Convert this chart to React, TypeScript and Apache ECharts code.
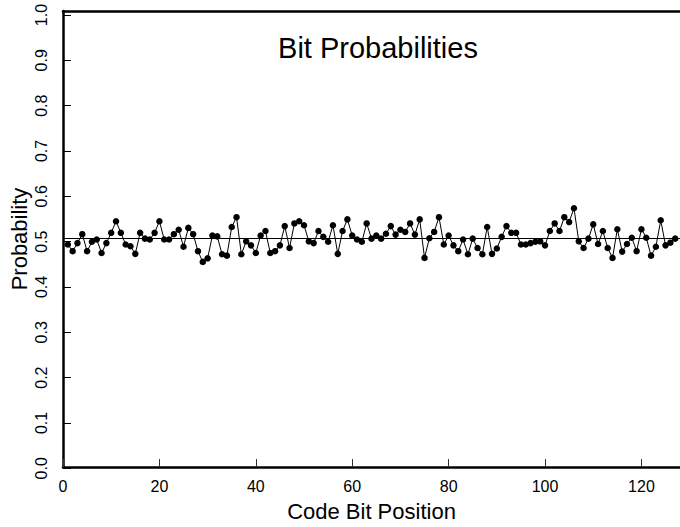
import React, { useEffect, useRef } from "react";
import * as echarts from "echarts";

const positions: number[] = Array.from({ length: 127 }, (_, i) => i + 1);
const probabilities: number[] = [
  0.487, 0.472, 0.49, 0.51, 0.472, 0.493, 0.498, 0.468, 0.49, 0.513,
  0.539, 0.513, 0.487, 0.483, 0.466, 0.513, 0.5, 0.498, 0.513, 0.539,
  0.498, 0.498, 0.51, 0.52, 0.482, 0.524, 0.51, 0.472, 0.448, 0.456,
  0.507, 0.505, 0.465, 0.462, 0.526, 0.548, 0.465, 0.494, 0.485, 0.468,
  0.507, 0.517, 0.468, 0.472, 0.485, 0.528, 0.479, 0.534, 0.539, 0.53,
  0.494, 0.49, 0.517, 0.504, 0.493, 0.53, 0.466, 0.517, 0.543, 0.507,
  0.498, 0.493, 0.534, 0.5, 0.507, 0.5, 0.511, 0.528, 0.509, 0.52,
  0.515, 0.534, 0.509, 0.543, 0.457, 0.501, 0.515, 0.548, 0.487, 0.507,
  0.485, 0.472, 0.498, 0.465, 0.5, 0.479, 0.465, 0.526, 0.466, 0.478,
  0.504, 0.528, 0.513, 0.513, 0.487, 0.487, 0.49, 0.493, 0.494, 0.485,
  0.517, 0.534, 0.517, 0.548, 0.537, 0.568, 0.494, 0.479, 0.5, 0.532,
  0.488, 0.517, 0.479, 0.457, 0.521, 0.471, 0.488, 0.502, 0.472, 0.521,
  0.502, 0.462, 0.482, 0.541, 0.485, 0.491, 0.5,
];
const xTicks: number[] = [0, 20, 40, 60, 80, 100, 120];
const yTickMin = 0;
const yTickMax = 1;
const yTickStep = 0.1;
const referenceLevel = 0.5;
const titleText = "Bit Probabilities";
const xName = "Code Bit Position";
const yName = "Probability";

const FONT = "'Liberation Sans', Arial, Helvetica, sans-serif";

export default function App() {
  const ref = useRef<HTMLDivElement>(null);
  useEffect(() => {
    if (!ref.current) return;
    const chart = echarts.init(ref.current, undefined, { renderer: "svg" });
    const axisLine = {
      show: true,
      onZero: false,
      lineStyle: { color: "#000", width: 2.5 },
    };
    chart.setOption({
      animation: false,
      backgroundColor: "#fff",
      grid: [
        { left: 63, right: -6, top: 11, bottom: 54, containLabel: false },
        { left: 63, right: -6, top: 15, bottom: 58.7, containLabel: false },
      ],
      graphic: [
        {
          type: "text",
          x: 378,
          y: 48,
          style: {
            text: titleText,
            font: `29px ${FONT}`,
            fill: "#000",
            align: "center",
            verticalAlign: "middle",
          },
        },
      ],
      xAxis: [
        {
          type: "value",
          gridIndex: 0,
          min: 0,
          max: 128,
          position: "bottom",
          name: xName,
          nameLocation: "middle",
          nameGap: 33,
          nameTextStyle: { fontFamily: FONT, fontSize: 22, color: "#000" },
          axisLine,
          axisTick: {
            show: true,
            inside: true,
            length: 8,
            customValues: xTicks,
            lineStyle: { color: "#333", width: 1 },
          },
          axisLabel: {
            show: true,
            customValues: xTicks,
            margin: 11,
            fontFamily: FONT,
            fontSize: 16,
            color: "#000",
          },
          splitLine: { show: false },
        },
        {
          type: "value",
          gridIndex: 0,
          min: 0,
          max: 128,
          position: "top",
          axisLine,
          axisTick: { show: false },
          axisLabel: { show: false },
          splitLine: { show: false },
        },
        {
          type: "value",
          gridIndex: 1,
          min: 0,
          max: 128,
          show: false,
        },
      ],
      yAxis: [
        {
          type: "value",
          gridIndex: 0,
          min: -0.0104,
          max: 1.0088,
          name: yName,
          nameLocation: "middle",
          nameGap: 33,
          nameRotate: 90,
          nameTextStyle: { fontFamily: FONT, fontSize: 22, color: "#000" },
          axisLine,
          axisTick: { show: false },
          axisLabel: { show: false },
          splitLine: { show: false },
        },
        {
          type: "value",
          gridIndex: 1,
          min: yTickMin,
          max: yTickMax,
          interval: yTickStep,
          axisLine: { show: false },
          axisTick: {
            show: true,
            inside: true,
            length: 8,
            lineStyle: { color: "#000", width: 1 },
          },
          axisLabel: {
            show: true,
            rotate: 90,
            margin: 14,
            fontFamily: FONT,
            fontSize: 16,
            color: "#000",
            formatter: (v: number) => v.toFixed(1),
          },
          splitLine: { show: false },
        },
      ],
      series: [
        {
          type: "line",
          xAxisIndex: 0,
          yAxisIndex: 0,
          data: positions.map((p, i) => [p, probabilities[i]]),
          symbol: "circle",
          symbolSize: 6.5,
          showAllSymbol: true,
          clip: false,
          itemStyle: { color: "#000" },
          lineStyle: { color: "#000", width: 1 },
          markLine: {
            silent: true,
            symbol: "none",
            label: { show: false },
            lineStyle: { color: "#000", width: 1, type: "solid" },
            data: [{ yAxis: referenceLevel }],
          },
        },
      ],
    });
    return () => chart.dispose();
  }, []);
  return (
    <div
      ref={ref}
      style={{ position: "fixed", left: 0, top: 0, width: 680, height: 527 }}
    />
  );
}
